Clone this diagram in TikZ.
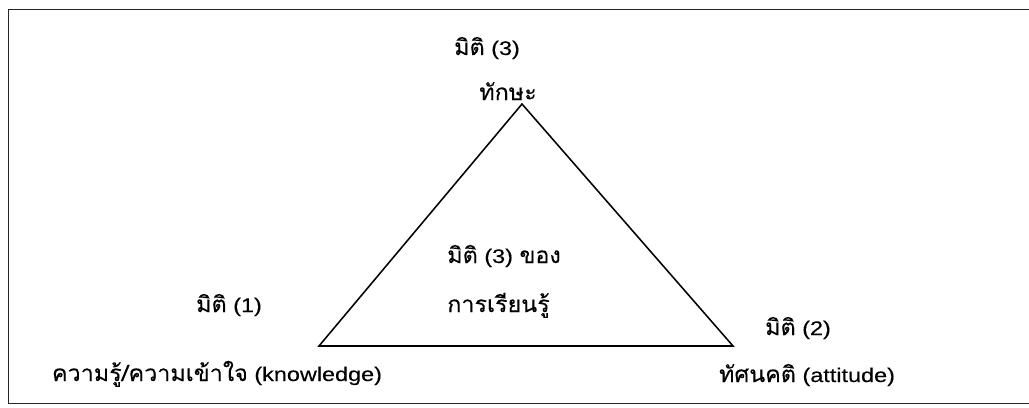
\documentclass[tikz,border=0pt]{standalone}
\usepackage{fontspec}
\setmainfont{Liberation Sans}[FakeStretch=1.19,FakeBold=0.15]
\newfontfamily\thaifont[Script=Thai,Scale=1.14,FakeStretch=1.04,FakeBold=0.15]{Loma}

\begin{document}
\begin{tikzpicture}
    [
    x=0.025cm, y=-0.025cm,
    txt/.style={inner sep=0pt, anchor=base, font=\fontsize{14}{16}\selectfont},
    side/.style={line width=1.1pt},
    frame/.style={line width=1.4pt, draw=black!85}
    ]
    \useasboundingbox (0,0) rectangle (1029,407);
    \draw [frame] (1040,9.5) -- (8.5,9.5) -- (8.5,403.5) -- (1040,403.5);

    \coordinate (apex) at (522,104);
    \coordinate (left) at (319,346);
    \coordinate (right) at (733,346);
    \draw [side] (apex) -- (left) -- (right) -- cycle;

    \node (dimthree) [txt] at (487,55) {{\thaifont มิติ} (3)};
    \node (skill) [txt] at (508,100) {\thaifont ทักษะ};

    \node (dimone) [txt] at (229,312) {{\thaifont มิติ} (1)};
    \node (knowledge) [txt] at (217,381) {{\thaifont ความรู้/ความเข้าใจ} (knowledge)};

    \node (dimtwo) [txt] at (798,335) {{\thaifont มิติ} (2)};
    \node (attitude) [txt] at (807,382) {{\thaifont ทัศนคติ} (attitude)};

    \node (dimcenter) [txt, anchor=base west] at (447,263) {{\thaifont มิติ} (3) {\thaifont ของ}};
    \node (learning) [txt, anchor=base west] at (447,312) {\thaifont การเรียนรู้};
\end{tikzpicture}
\end{document}
